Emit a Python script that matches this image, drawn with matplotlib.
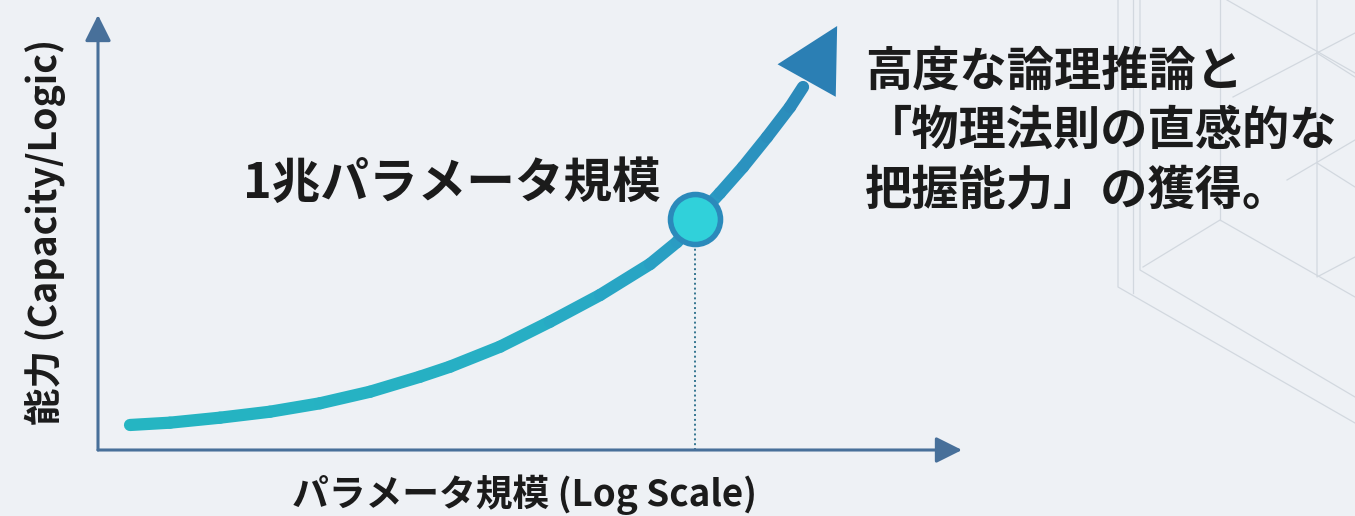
import numpy as np
import matplotlib
matplotlib.use("Agg")
import matplotlib.pyplot as plt
from matplotlib.collections import LineCollection
from matplotlib.colors import LinearSegmentedColormap
from matplotlib.lines import Line2D

plt.rcParams["font.family"] = ["Noto Sans CJK JP", "DejaVu Sans"]

# scaling curve (x = log10 of parameter count, y = capacity 0-100)
log_params = [9.000, 9.212, 9.478, 9.743, 10.009, 10.275, 10.540, 10.699, 10.965, 11.230,
              11.496, 11.762, 11.905, 12.000, 12.133, 12.255, 12.383, 12.505, 12.574]
capacity = [5.75, 6.28, 7.43, 8.80, 10.74, 13.40, 16.85, 19.15, 23.75, 29.49,
            35.63, 42.76, 47.82, 52.87, 59.08, 65.06, 71.95, 78.85, 83.45]
tip_log, tip_cap = 12.755, 97.47        # arrow head tip
marker_log, marker_cap = 12.0, 53.1     # 1 trillion parameters

marker_label = "1兆パラメータ規模"
note_lines = ["高度な論理推論と", "「物理法則の直感的な", "把握能力」の獲得。"]
xlabel = "パラメータ規模 (Log Scale)"
ylabel = "能力 (Capacity/Logic)"

bg = "#eef1f5"
W, H = 1355, 516

fig = plt.figure(figsize=(W / 100, H / 100), dpi=100)
fig.patch.set_facecolor(bg)

# faint background sketch lines (decoration only), in pixel coords
deco = [
    [(1118, 0), (1118, 287), (1355, 423)],
    [(1133, 0), (1133, 293)],
    [(1140, 0), (1140, 270), (1355, 397)],
    [(1143, 267), (1220, 220), (1355, 297)],
    [(1220, 0), (1220, 220)],
    [(1317, 0), (1317, 277), (1355, 257)],
    [(1227, 0), (1355, 73)],
    [(1233, 97), (1355, 33)],
    [(1317, 53), (1355, 77)],
    [(1287, 180), (1355, 140)],
    [(1317, 163), (1355, 187)],
]
for seg in deco:
    xs = [p[0] / W for p in seg]
    ys = [1 - p[1] / H for p in seg]
    fig.add_artist(Line2D(xs, ys, transform=fig.transFigure, color="#d2d8df", lw=0.9, zorder=0))

ax = fig.add_axes([98 / W, 66 / H, (962 - 98) / W, (450 - 15) / H])
ax.set_facecolor("none")
ax.set_xscale("log")
ax.set_xlim(10 ** 8.83, 10 ** 13.418)
ax.set_ylim(0, 100)
ax.axis("off")

axis_col = "#48709a"
arrow_kw = dict(arrowstyle="-|>,head_length=1.6,head_width=0.8", mutation_scale=10,
                color=axis_col, lw=2.2, shrinkA=0, shrinkB=0)
ax.annotate("", xy=(1, 0), xytext=(0, 0), xycoords="axes fraction", arrowprops=arrow_kw)
ax.annotate("", xy=(0, 1), xytext=(0, 0), xycoords="axes fraction", arrowprops=arrow_kw)

# gradient curve
x = 10 ** np.array(log_params)
y = np.array(capacity)
pts = np.column_stack([x, y])
segs = np.stack([pts[:-1], pts[1:]], axis=1)
cmap = LinearSegmentedColormap.from_list(
    "curve", [(0, "#25b5c2"), (0.55, "#27aec4"), (0.8, "#2a9ac3"), (1, "#2c82b6")])
t = (np.array(log_params[:-1]) - log_params[0]) / (tip_log - log_params[0])
lc = LineCollection(segs, colors=cmap(t), linewidths=8.8, capstyle="round", joinstyle="round", zorder=3)
ax.add_collection(lc)

ax.annotate("", xy=(10 ** tip_log, tip_cap), xytext=(10 ** log_params[-1], capacity[-1]),
            arrowprops=dict(arrowstyle="-|>,head_length=2.25,head_width=1.2", mutation_scale=20,
                            color="#2b7fb4", lw=0, shrinkA=0, shrinkB=0), zorder=4)

ax.plot([10 ** marker_log] * 2, [0, marker_cap], ls=(0, (1, 1.5)), color="#347590", lw=1.4, zorder=2)
ax.plot(10 ** marker_log, marker_cap, "o", ms=36, mfc="#30d1da", mec="#2b8abb", mew=4, zorder=5)

txt = "#1b1b1b"
fig.text(452 / W, 1 - 183 / H, marker_label, fontsize=35, fontweight="bold", color=txt,
         ha="center", va="center")
for i, line in enumerate(note_lines):
    fig.text(865 / W, 1 - (72 + 59 * i) / H, line, fontsize=34, fontweight="bold", color=txt,
             ha="left", va="center")

fig.text(525 / W, 1 - 495 / H, xlabel, fontsize=26.5, fontweight="bold", color=txt,
         ha="center", va="center")
fig.text(45 / W, 1 - 232 / H, ylabel, fontsize=27, fontweight="bold", color=txt,
         ha="center", va="center", rotation=90)

fig.savefig("out.png", dpi=100, facecolor=bg)
